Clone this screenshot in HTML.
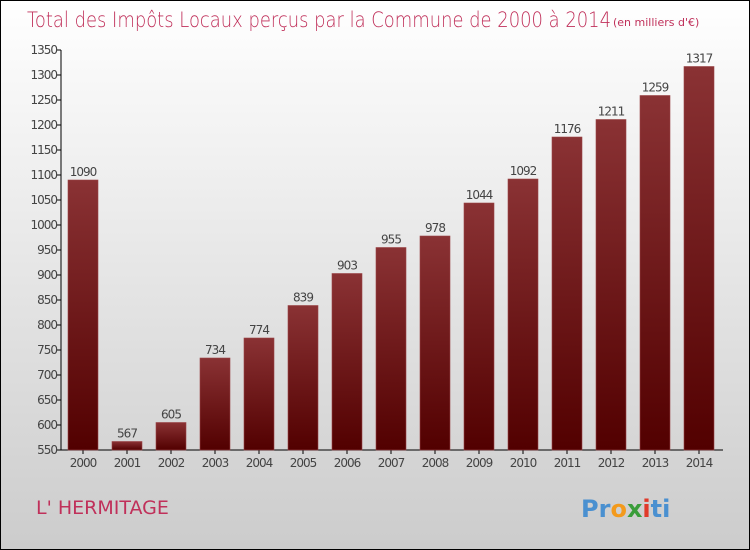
<!DOCTYPE html>
<html><head><meta charset="utf-8"><style>
body{margin:0}
#c{position:relative;width:748px;height:548px;border:1px solid #000;background:linear-gradient(#fff,#ccc);font-family:"DejaVu Sans","Liberation Sans",sans-serif;overflow:hidden}
</style></head><body>
<div id="c">
<svg width="748" height="548">
<defs><linearGradient id="g" x1="0" y1="0" x2="0" y2="1"><stop offset="0" stop-color="#8a3234"/><stop offset="1" stop-color="#520000"/></linearGradient></defs>
<text x="26" y="26" font-size="21" fill="#c0305a" font-weight="200" textLength="584" lengthAdjust="spacingAndGlyphs">Total des Impôts Locaux perçus par la Commune de 2000 à 2014</text>
<text x="612" y="25" font-size="11" fill="#c0305a">(en milliers d'€)</text>
<g id="ax"></g><g id="bars"></g>
<text x="35" y="513" font-size="19" fill="#c0305a">L' HERMITAGE</text>
<g font-size="24" font-weight="bold">
<text x="580" y="516"><tspan fill="#4a90d0">Pr</tspan><tspan fill="#f39a1c">o</tspan><tspan fill="#3a9d3a">x</tspan><tspan fill="#e03a2a">i</tspan><tspan fill="#4a90d0">ti</tspan></text></g>
</svg></div>
<script>
const years=["2000","2001","2002","2003","2004","2005","2006","2007","2008","2009","2010","2011","2012","2013","2014"];
const values=[1090,567,605,734,774,839,903,955,978,1044,1092,1176,1211,1259,1317];
const ticks=[550,600,650,700,750,800,850,900,950,1000,1050,1100,1150,1200,1250,1300,1350];
const NS="http://www.w3.org/2000/svg";
const y=v=>449-(v-550)*0.5;
const x0=60,band=44;
const ax=document.getElementById('ax'),bg=document.getElementById('bars');
function mk(t,a,p){const e=document.createElementNS(NS,t);for(const k in a)e.setAttribute(k,a[k]);p.appendChild(e);return e;}
let l=mk('line',{x1:x0,y1:y(1350),x2:x0,y2:449,stroke:'#000'},ax);


l=mk('line',{x1:x0-3,y1:449,x2:x0+band*15+2,y2:449,stroke:'#000'},ax);


ticks.forEach(t=>{mk('line',{x1:x0-4,y1:y(t),x2:x0,y2:y(t),stroke:'#000'},ax);
const tx=mk('text',{x:x0-4,y:y(t)+4,'font-size':12,fill:'#444','text-anchor':'end','letter-spacing':'-1'},ax);tx.textContent=t;

});
years.forEach((yr,i)=>{const cx=x0+band*i+band/2;
mk('line',{x1:cx,y1:449,x2:cx,y2:453,stroke:'#000'},ax);
const t=mk('text',{x:cx,y:466,'font-size':12,fill:'#444','text-anchor':'middle','letter-spacing':'-1'},ax);t.textContent=yr;


const r=mk('rect',{x:cx-15,y:y(values[i]),width:30,height:449-y(values[i]),fill:'url(#g)',stroke:'#9a4446','stroke-width':0.6},bg);


const v=mk('text',{x:cx,y:y(values[i])-4,'font-size':12,fill:'#444','text-anchor':'middle','letter-spacing':'-1'},bg);v.textContent=values[i];

});
</script>
</body></html>
